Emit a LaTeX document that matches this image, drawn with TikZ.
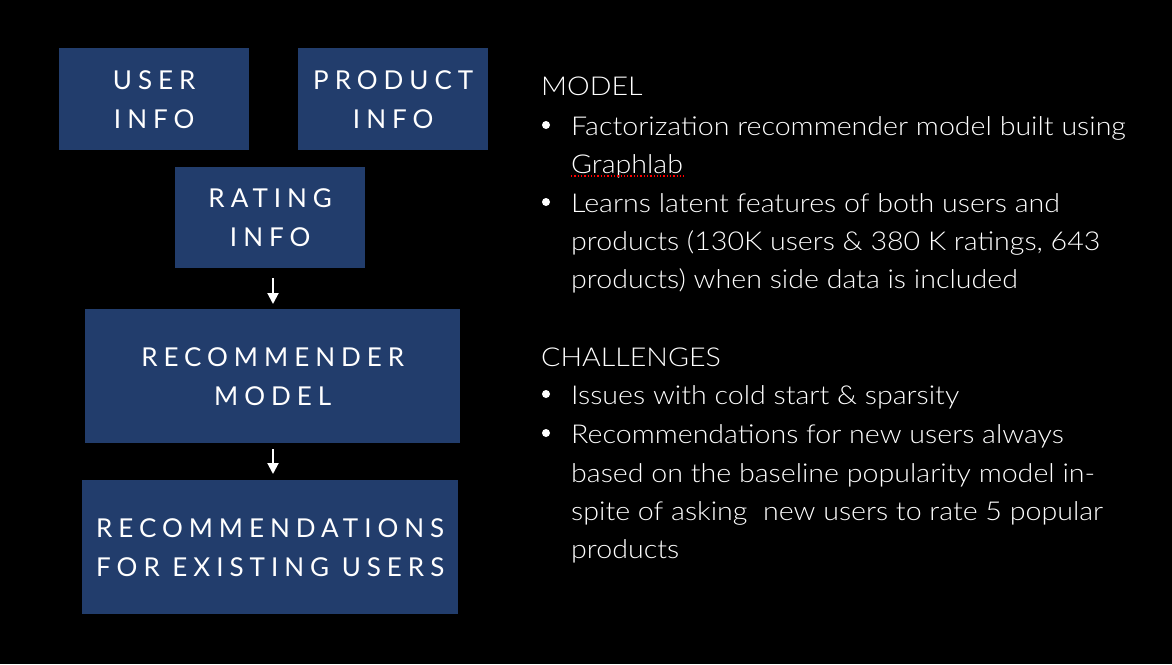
\documentclass[tikz,border=0pt]{standalone}
\usepackage{fontspec}
\setmainfont{Lato Light}[FakeStretch=1.1]
\newfontfamily\boxfont[LetterSpace=23]{Lato}
\usetikzlibrary{arrows.meta}
\definecolor{boxblue}{HTML}{223D6C}
\tikzset{
  stagebox/.style={fill=boxblue, draw=none, anchor=north west, inner sep=0pt,
    text=white, align=center, font=\boxfont\fontsize{26}{39}\selectfont},
  flowarrow/.style={draw=white, line width=2pt, -{Triangle[width=11pt,length=11pt]}},
  bodytext/.style={anchor=base west, inner sep=0pt, text=white, font=\fontsize{26}{31}\selectfont},
  bulletdot/.style={circle, fill=white, inner sep=0pt, minimum size=8pt}
}
\begin{document}
\begin{tikzpicture}[x=1pt, y=-1pt]
  % canvas
  \fill[black] (0,0) rectangle (1172,664);
  \useasboundingbox (0,0) rectangle (1172,664);

  % flow boxes
  \node[stagebox, minimum width=190pt, minimum height=102pt] (user) at (59,48) {USER\\INFO};
  \node[stagebox, minimum width=190pt, minimum height=102pt] (product) at (298,48) {PRODUCT\\INFO};
  \node[stagebox, minimum width=190pt, minimum height=101pt] (rating) at (175,167) {RATING\\INFO};
  \node[stagebox, minimum width=375pt, minimum height=134pt] (model) at (85,309) {RECOMMENDER\\MODEL};
  \node[stagebox, minimum width=376pt, minimum height=134pt] (recs) at (82,480) {RECOMMENDATIONS\\FOR EXISTING USERS};

  % arrows
  \coordinate (a1s) at (273,278);
  \coordinate (a1e) at (273,304);
  \coordinate (a2s) at (273,449);
  \coordinate (a2e) at (273,474);
  \draw[flowarrow] (a1s) -- (a1e);
  \draw[flowarrow] (a2s) -- (a2e);

  % right-hand notes
  \node[bodytext] (h1) at (541,95) {MODEL};
  \node[bulletdot] (b1) at (546,125) {};
  \node[bodytext] (t1) at (571,135) {Factorization recommender model built using};
  \node[bodytext] (t2) at (571,173) {Graphlab};
  \draw[red, line width=1.3pt, dotted] ([yshift=-3pt]t2.base west) -- ([yshift=-3pt]t2.base east);
  \node[bulletdot] (b2) at (546,202) {};
  \node[bodytext] (t3) at (571,212) {Learns latent features of both users and};
  \node[bodytext] (t4) at (571,250) {products (130K users \& 380 K ratings, 643};
  \node[bodytext] (t5) at (571,288) {products) when side data is included};

  \node[bodytext] (h2) at (541,366) {CHALLENGES};
  \node[bulletdot] (b3) at (546,394) {};
  \node[bodytext] (t6) at (571,404) {Issues with cold start \& sparsity};
  \node[bulletdot] (b4) at (546,433) {};
  \node[bodytext] (t7) at (571,443) {Recommendations for new users always};
  \node[bodytext] (t8) at (571,482) {based on the baseline popularity model in-};
  \node[bodytext] (t9) at (571,520) {spite of asking\ \ new users to rate 5 popular};
  \node[bodytext] (t10) at (571,558) {products};
\end{tikzpicture}
\end{document}
